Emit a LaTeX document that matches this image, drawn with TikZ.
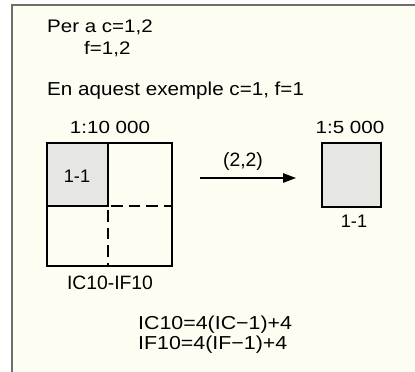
\documentclass[tikz,border=0pt]{standalone}
\usepackage{fontspec}
\setmainfont{Liberation Sans}
\newfontfamily\wideA[FakeStretch=1.13]{Liberation Sans}
\newfontfamily\wideB[FakeStretch=1.10]{Liberation Sans}
\newfontfamily\wideC[FakeStretch=1.14]{Liberation Sans}
\newfontfamily\wideD[FakeStretch=1.17]{Liberation Sans}
\definecolor{pagecream}{HTML}{FDFDF1}
\definecolor{framegray}{HTML}{6E6E6E}
\definecolor{tilegray}{HTML}{E6E6E2}
\usetikzlibrary{arrows.meta}

\tikzset{
  txt/.style={inner sep=0pt, font=\fontsize{15.5}{18}\selectfont},
  scaletxt/.style={inner sep=0pt, font=\wideD\fontsize{15}{18}\selectfont},
  headtxt/.style={inner sep=0pt, font=\wideA\fontsize{15.5}{18}\selectfont},
  introtxt/.style={inner sep=0pt, font=\wideB\fontsize{16}{19}\selectfont},
  eqtxt/.style={inner sep=0pt, font=\wideC\fontsize{16}{19}\selectfont},
  bigtxt/.style={inner sep=0pt, font=\fontsize{16.5}{19}\selectfont},
  tileline/.style={line width=2.3pt, draw=black},
}

\begin{document}
\begin{tikzpicture}[x=0.03cm, y=-0.03cm]

  %% page and frame
  \useasboundingbox (0,0) rectangle (415,372);
  \fill[white] (0,0) rectangle (415,372);
  \fill[pagecream] (12,5) rectangle (415,372);
  \draw[framegray, line width=1.6pt] (12,372) -- (12,5) -- (415,5);

  %% heading text
  \node[headtxt, anchor=base west] (per) at (47,33) {Per a c=1,2};
  \node[headtxt, anchor=base west] (fil) at (84,55) {f=1,2};
  \node[introtxt, anchor=base west] (exm) at (47,96) {En aquest exemple c=1, f=1};

  %% map 1:10 000
  \node[scaletxt, anchor=base] (sc10) at (110,134) {1:10 000};
  \fill[tilegray] (47,143) rectangle (108,206);
  \node[txt] (t11) at (77,176) {1-1};
  \draw[tileline] (47,143) rectangle (172,266);
  \draw[tileline] (108,143) -- (108,206) -- (47,206);
  \draw[tileline, dash pattern=on 10pt off 5pt] (111,206) -- (172,206);
  \draw[tileline, dash pattern=on 10pt off 5pt] (108,210) -- (108,266);
  \node[bigtxt, anchor=base] (ic10) at (110,290) {IC10-IF10};

  %% arrow
  \coordinate (from) at (200,178);
  \coordinate (to) at (296,178);
  \draw[-{Triangle[length=11pt,width=8pt]}, line width=1.1pt] (from) -- (to);
  \node[bigtxt, anchor=base] (step22) at (243,167) {(2,2)};

  %% map 1:5 000
  \node[scaletxt, anchor=base] (sc5) at (350,134) {1:5 000};
  \draw[tileline, fill=tilegray] (322,143) rectangle (381,207);
  \node[txt, anchor=base] (t11b) at (354,228) {1-1};

  %% formulas
  \node[eqtxt, anchor=base west] (eqc) at (138,330) {IC10=4(IC−1)+4};
  \node[eqtxt, anchor=base west] (eqf) at (138,350) {IF10=4(IF−1)+4};

\end{tikzpicture}
\end{document}
